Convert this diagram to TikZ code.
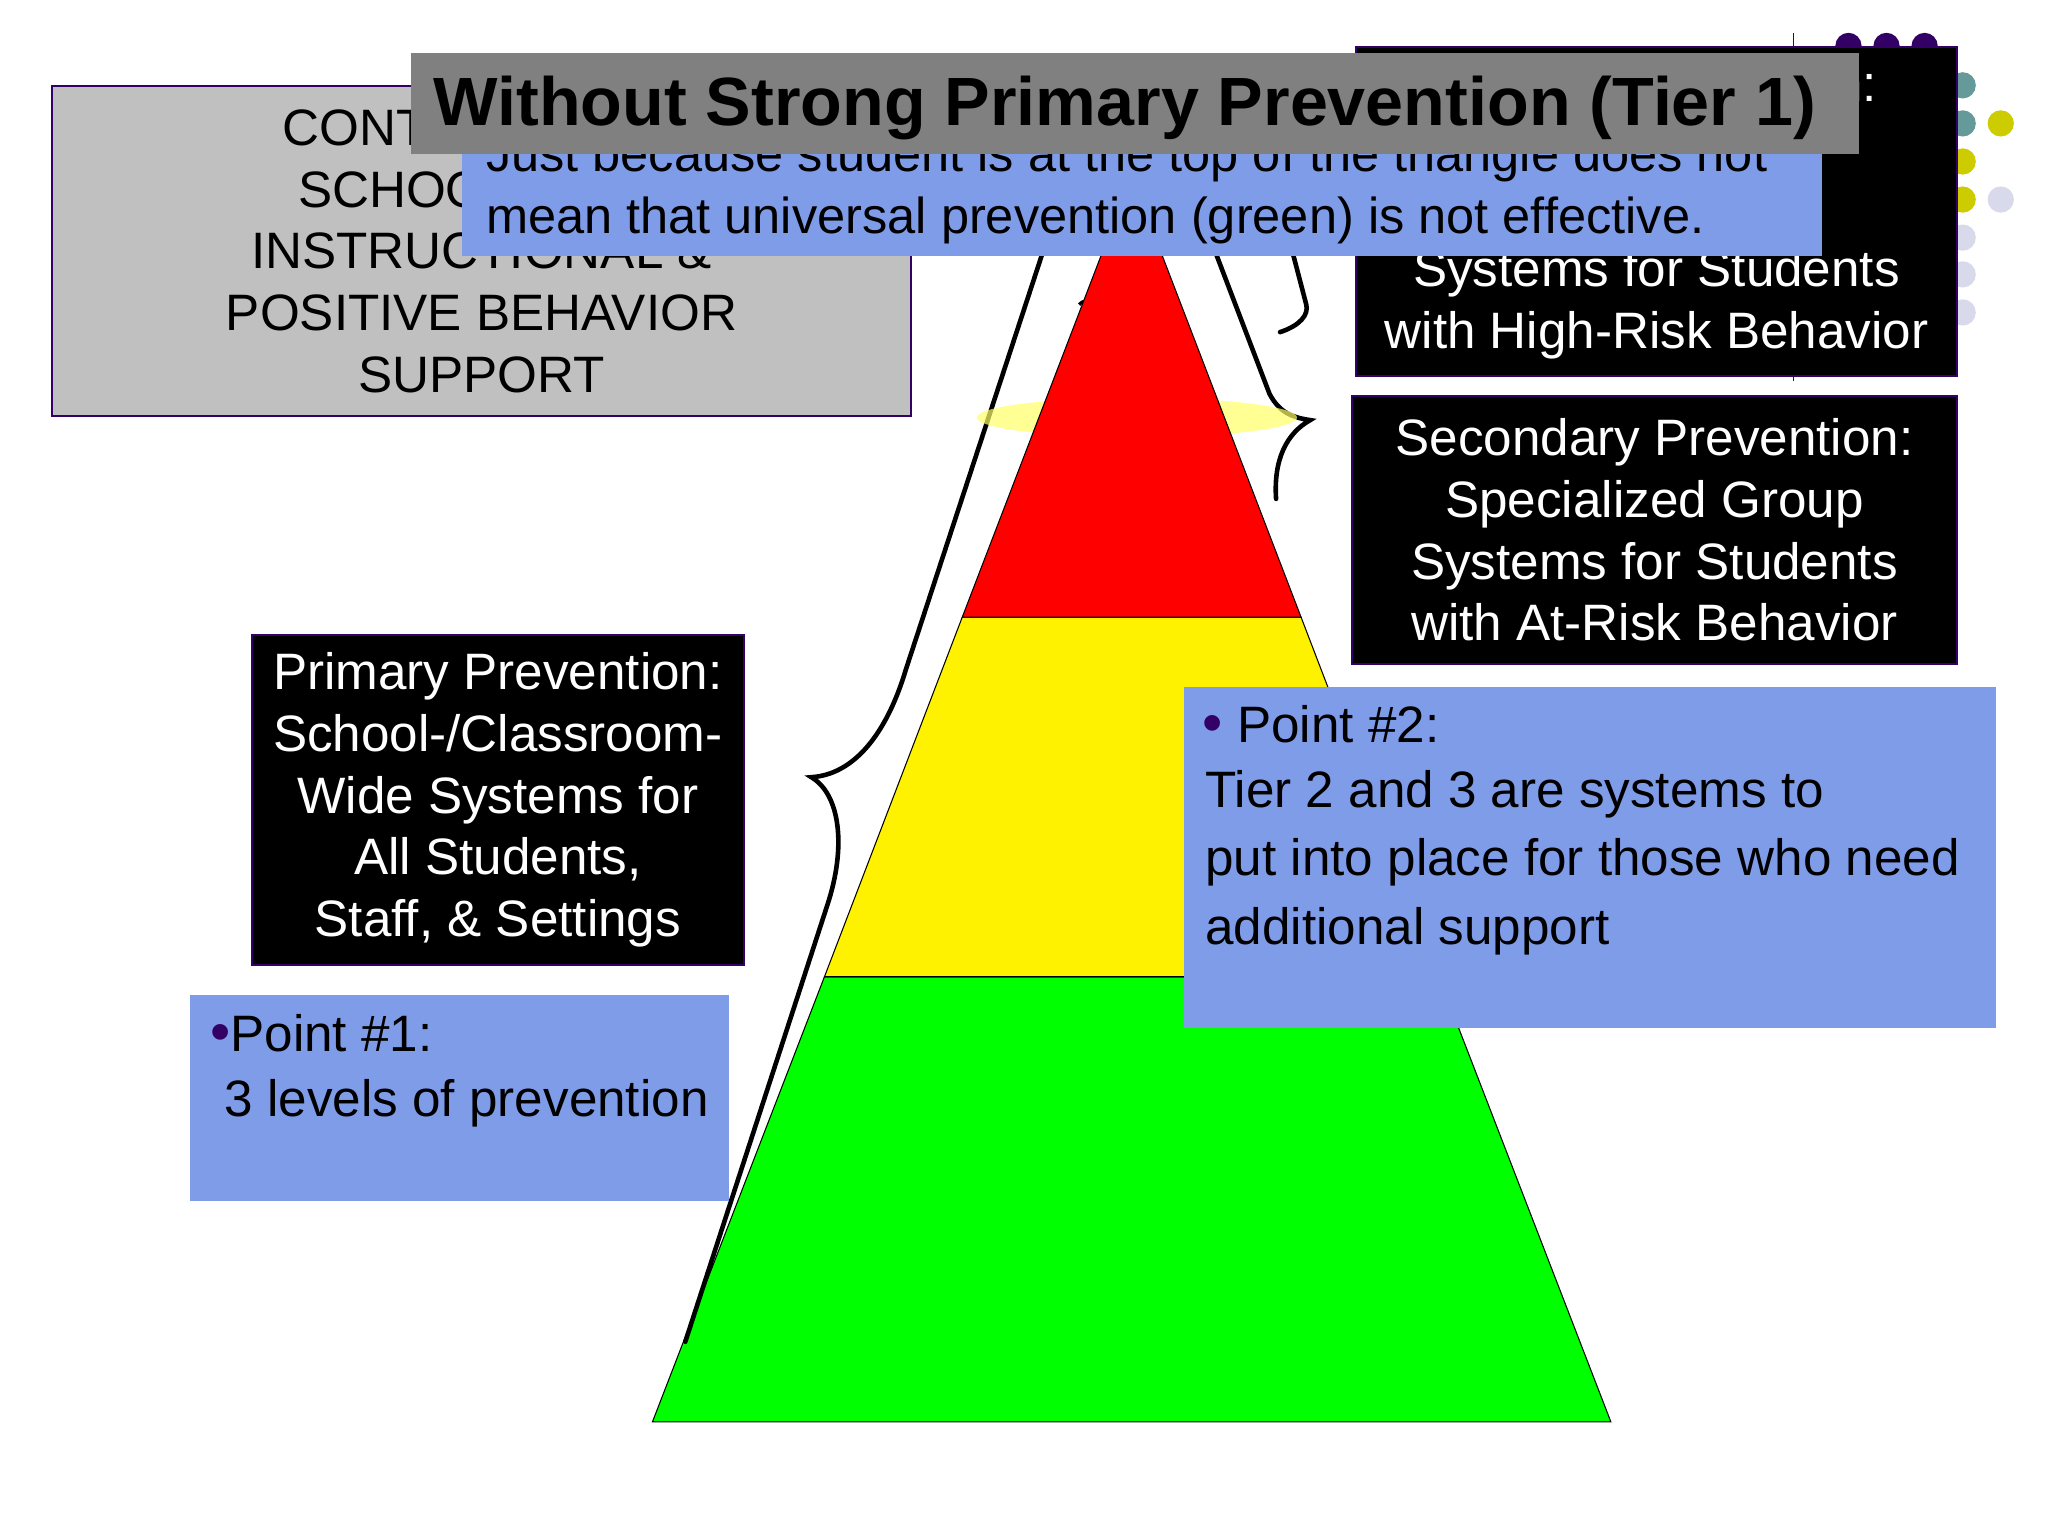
\documentclass[tikz,border=0pt]{standalone}
\usepackage{fontspec}
\setmainfont{Liberation Sans}
\begin{document}
\begin{tikzpicture}[x=1pt,y=-1pt,
  bbox/.style={draw=edgep,line width=1.5pt,fill=black,text=white,align=center,font=\fontsize{39}{47}\selectfont},
  txt/.style={inner sep=0pt,font=\fontsize{39}{47}\selectfont},
  brace/.style={line width=3.5pt,line cap=round},
  dot/.style={circle,inner sep=0pt,minimum size=20pt},
  bul/.style={}]
\definecolor{edgep}{HTML}{330066}
\definecolor{blueb}{HTML}{7F9CE8}
\definecolor{graybox}{HTML}{C0C0C0}
\definecolor{titleg}{HTML}{808080}
\definecolor{teal}{HTML}{669999}
\definecolor{olive}{HTML}{CCCC00}
\definecolor{lav}{HTML}{D9D9EC}
\definecolor{glow}{HTML}{FFFF66}
\useasboundingbox (0,0) rectangle (1560,1170);
\fill[white] (0,0) rectangle (1560,1170);
% vertical rule and dots
\draw[edgep,line width=1pt] (1366,25) -- (1366,290);
\foreach \x/\y/\c in {1408/35/edgep,1437/35/edgep,1466/35/edgep,1495/65/teal,1495/94/teal,1524/94/olive,1495/123/olive,1495/152/olive,1524/152/lav,1495/181/lav,1495/209/lav,1495/238/lav}
  \node[dot,fill=\c] at (\x,\y) {};
% pyramid
\coordinate (apex) at (862,134);
\draw[fill=green,line width=0.8pt] (497,1083) -- (1227,1083) -- (1096,744) -- (628,744) -- cycle;
\draw[fill=yellow,line width=0.8pt] (628,744) -- (1096,744) -- (991,470) -- (733,470) -- cycle;
% braces
\draw[brace] (522,1022) -- (630,690) .. controls (645,645) and (640,605) .. (618,592)
  .. controls (650,590) and (675,560) .. (690,510) -- (795,190);
\draw[brace] (925,190) -- (967,300) .. controls (975,315) and (985,318) .. (998,320)
  .. controls (980,330) and (970,350) .. (972,380);
\draw[brace] (984,190) -- (995,232) .. controls (997,240) and (990,248) .. (975,253);
\draw[line width=2.5pt] (822,232) .. controls (826,228) and (830,228) .. (834,234);
\fill[glow,opacity=0.7] (866,318) ellipse (122 and 15);
\draw[fill=red,line width=0.8pt] (733,470) -- (991,470) -- (apex) -- cycle;
% gray box
\node[draw=edgep,line width=1.5pt,fill=graybox,minimum width=654pt,minimum height=251pt,anchor=north west,
  align=center,font=\fontsize{39}{47}\selectfont,inner sep=0pt] (cont) at (39,65)
  {CONTINUUM OF\\SCHOOL-WIDE\\INSTRUCTIONAL \&\\POSITIVE BEHAVIOR\\SUPPORT};
% tertiary box
\node[bbox,minimum width=458pt,minimum height=251pt,anchor=north west,inner sep=0pt] (tert) at (1032,35)
  {Tertiary Prevention:\\Specialized\\Individualized\\Systems for Students\\with High-Risk Behavior};
% secondary box
\node[bbox,minimum width=461pt,minimum height=204pt,anchor=north west,inner sep=0pt] (sec) at (1029,301)
  {Secondary Prevention:\\Specialized Group\\Systems for Students\\with At-Risk Behavior};
% primary box
\node[bbox,minimum width=375pt,minimum height=251pt,anchor=north west,inner sep=0pt] (prim) at (191,483)
  {Primary Prevention:\\School-/Classroom-\\Wide Systems for\\All Students,\\Staff, \& Settings};
% point 1
\fill[blueb] (145,758) rectangle (555,915);
\node[txt,anchor=west] (p1a) at (160,787) {\textcolor{edgep}{\fontsize{44}{30}\selectfont\textbullet}Point \#1:};
\node[txt,anchor=west] (p1b) at (171,840) {3 levels of prevention};
% point 2
\fill[blueb] (902,523) rectangle (1520,783);
\node[txt,anchor=west] (p2a) at (916,552) {\textcolor{edgep}{\fontsize{44}{30}\selectfont\textbullet}\ Point \#2:};
\node[txt,anchor=west] (p2b) at (918,605) {Tier 2 and 3 are systems to};
\node[txt,anchor=west] (p2c) at (918,657) {put into place for those who need};
\node[txt,anchor=west] (p2d) at (918,709) {additional support};
% blue note
\fill[blueb] (352,100) rectangle (1388,195);
\node[txt,anchor=west,font=\fontsize{38.5}{40}\selectfont] (n1) at (370,121) {Just because student is at the top of the triangle does not};
\node[txt,anchor=west,font=\fontsize{38.5}{40}\selectfont] (n2) at (370,168) {mean that universal prevention (green) is not effective.};
% title
\fill[titleg] (313,40) rectangle (1416,117);
\node[txt,anchor=west,font=\fontsize{52}{56}\selectfont\bfseries] (title) at (330,82) {Without Strong Primary Prevention (Tier 1)};
\end{tikzpicture}
\end{document}
